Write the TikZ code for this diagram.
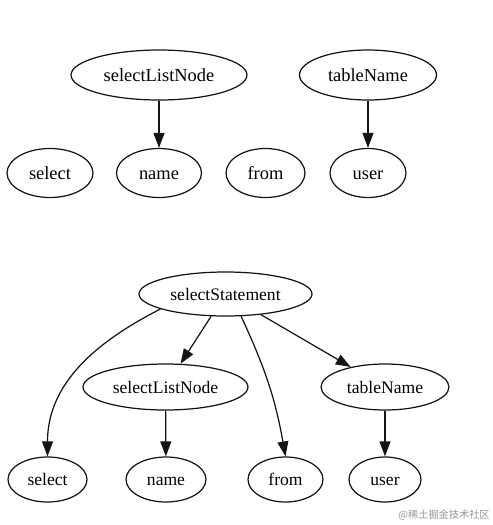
\documentclass[tikz,border=0pt]{standalone}
\usepackage{fontspec}
\setmainfont{Liberation Serif}
\newfontfamily\cjkfont{Noto Sans CJK SC}
\usepackage{xcolor}
\usetikzlibrary{arrows.meta,shapes.geometric}
\definecolor{EdgeC}{RGB}{20,20,20}
\definecolor{MarkC}{RGB}{150,150,150}
\tikzset{
  tok/.style={ellipse,draw=EdgeC,line width=0.7pt,inner sep=0pt,
              text height=0.85em,text depth=0.15em,
              font=\fontsize{10.5}{12}\selectfont},
  tokb/.style={tok,font=\fontsize{10}{12}\selectfont},
  edge/.style={-{Triangle[length=8.5pt,width=6.2pt]},line width=0.7pt,EdgeC},
}

\begin{document}
\begin{tikzpicture}[x=0.02cm,y=-0.02cm]
  \useasboundingbox (0,0) rectangle (493,525);
  \node[tok,minimum width=3.52cm,minimum height=1cm] (sln1) at (159,75) {selectListNode};
  \node[tok,minimum width=2.74cm,minimum height=1cm] (tn1) at (368,75) {tableName};
  \node[tok,minimum width=1.72cm,minimum height=0.98cm] (sel1) at (50,173) {select};
  \node[tok,minimum width=1.70cm,minimum height=0.98cm] (name1) at (159,173) {name};
  \node[tok,minimum width=1.58cm,minimum height=0.98cm] (from1) at (265.5,173) {from};
  \node[tok,minimum width=1.52cm,minimum height=0.98cm] (user1) at (368,173) {user};
  \draw[edge] (sln1) -- (name1);
  \draw[edge] (tn1) -- (user1);

  \node[tokb,minimum width=3.46cm,minimum height=0.88cm] (stmt) at (225.5,294) {selectStatement};
  \node[tokb,minimum width=3.30cm,minimum height=0.92cm] (sln2) at (165.5,387) {selectListNode};
  \node[tokb,minimum width=2.56cm,minimum height=0.92cm] (tn2) at (385,387) {tableName};
  \node[tokb,minimum width=1.58cm,minimum height=0.90cm] (sel2) at (47.5,479.5) {select};
  \node[tokb,minimum width=1.60cm,minimum height=0.90cm] (name2) at (166,479.5) {name};
  \node[tokb,minimum width=1.50cm,minimum height=0.90cm] (from2) at (285.5,479.5) {from};
  \node[tokb,minimum width=1.44cm,minimum height=0.90cm] (user2) at (385,479.5) {user};
  \draw[edge] (stmt.193) to[out=207,in=90] (sel2.north);
  \draw[edge] (stmt) -- (sln2);
  \draw[edge] (stmt.305) to[out=-65,in=100] (from2.north);
  \draw[edge] (stmt) -- (tn2);
  \draw[edge] (sln2) -- (name2);
  \draw[edge] (tn2) -- (user2);

  \node[font=\cjkfont\fontsize{5.8}{7}\selectfont,text=MarkC,anchor=east,inner sep=0pt] (mark) at (490,515) {@稀土掘金技术社区};
\end{tikzpicture}
\end{document}
